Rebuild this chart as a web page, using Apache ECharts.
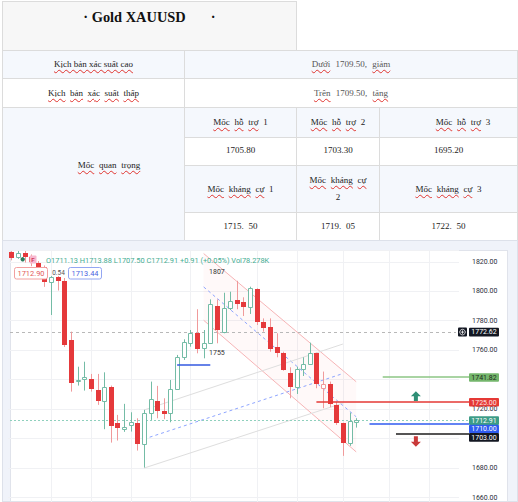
<!DOCTYPE html>
<html><head><meta charset="utf-8">
<script src="https://cdn.jsdelivr.net/npm/echarts@6/dist/echarts.min.js"></script>
<style>
html,body{margin:0;padding:0;background:#fff;width:518px;height:502px;overflow:hidden;position:relative;}
.c{position:absolute;box-sizing:border-box;border:1px solid #dcdcdc;display:flex;align-items:center;justify-content:center;text-align:center;font-family:"Liberation Serif","Times New Roman",serif;font-size:9px;color:#222;word-spacing:2.5px;line-height:12px;padding-bottom:1px;}
.b{background:#f5f8fd}
.w{background:#fff}
.s{text-decoration:underline wavy #e0342f;text-decoration-thickness:1px;text-underline-offset:1.5px;text-decoration-skip-ink:none}
#frame{position:absolute;left:2px;top:240px;width:516px;height:262px;box-sizing:border-box;background:#f0f3fa;border:1px solid #dde1ea;}
#pane{position:absolute;left:10px;top:250px;width:498px;height:252px;box-sizing:border-box;background:#fff;border:1px solid #e0e3eb;}
#chart{position:absolute;left:0;top:240px;width:518px;height:262px;}
</style></head><body>
<div class="c" style="left:2px;top:1px;width:295px;height:50px;background:#f7f7f7;align-items:flex-start;padding-top:7px;"><span style="font-weight:bold;font-size:14.4px;line-height:16px;white-space:pre;color:#111;word-spacing:0">· Gold XAUUSD       ·</span></div>
<div class="c b" style="left:2px;top:50px;width:183px;height:29px;word-spacing:0"><span class="s">Kịch bản xác suất cao</span></div>
<div class="c b" style="left:184px;top:50px;width:334px;height:29px;color:#555;word-spacing:3px"><span><span class="s">Dưới</span> 1709.50, <span class="s">giảm</span></span></div>
<div class="c w" style="left:2px;top:78px;width:183px;height:30px;word-spacing:2.2px"><span><span class="s">Kịch</span> <span class="s">bản</span> <span class="s">xác</span> <span class="s">suất</span> <span class="s">thấp</span></span></div>
<div class="c w" style="left:184px;top:78px;width:334px;height:30px;color:#555;word-spacing:3px"><span><span class="s">Trên</span> 1709.50, <span class="s">tăng</span></span></div>
<div class="c b" style="left:2px;top:107px;width:183px;height:134px;padding-left:31px;padding-bottom:18px;"><span><span class="s">Mốc</span> <span class="s">quan</span> <span class="s">trọng</span></span></div>
<div class="c b" style="left:184px;top:107px;width:113px;height:31px;"><span><span class="s">Mốc</span> <span class="s">hỗ</span> <span class="s">trợ</span> 1</span></div>
<div class="c b" style="left:296px;top:107px;width:84px;height:31px;"><span><span class="s">Mốc</span> <span class="s">hỗ</span> <span class="s">trợ</span> 2</span></div>
<div class="c b" style="left:379px;top:107px;width:139px;height:31px;padding-left:29px;"><span><span class="s">Mốc</span> <span class="s">hỗ</span> <span class="s">trợ</span> 3</span></div>
<div class="c w" style="left:184px;top:137px;width:113px;height:29px;padding-bottom:3px">1705.80</div>
<div class="c w" style="left:296px;top:137px;width:84px;height:29px;padding-bottom:3px">1703.30</div>
<div class="c w" style="left:379px;top:137px;width:139px;height:29px;padding-bottom:3px">1695.20</div>
<div class="c b" style="left:184px;top:165px;width:113px;height:48px;"><span><span class="s">Mốc</span> <span class="s">kháng</span> <span class="s">cự</span> 1</span></div>
<div class="c b" style="left:296px;top:165px;width:84px;height:48px;line-height:17px"><span><span class="s">Mốc</span> <span class="s">kháng</span> <span class="s">cự</span><br>2</span></div>
<div class="c b" style="left:379px;top:165px;width:139px;height:48px;"><span><span class="s">Mốc</span> <span class="s">kháng</span> <span class="s">cự</span> 3</span></div>
<div class="c w" style="left:184px;top:212px;width:113px;height:29px;">1715. 50</div>
<div class="c w" style="left:296px;top:212px;width:84px;height:29px;">1719. 05</div>
<div class="c w" style="left:379px;top:212px;width:139px;height:29px;">1722. 50</div>
<div id="frame"></div>
<div id="pane"></div>
<div id="chart"></div>
<script>
// ---------- data ----------
const categories = Array.from({length: 68}, (_, i) => String(i + 1));
const opens = [1826.5,1823,1826,1823.5,1819.5,1816.5,1806.5,1809.8,1806.9,1766.9,
1739.8,1740.3,1740.5,1733,1725.8,1735.3,1710.9,1706.4,1709.3,1710.9,
1696.2,1717.7,1725.6,1718.8,1717.2,1733.5,1755.6,1764.7,1771.5,1761.3,
1765.1,1790.2,1772.6,1788.4,1794.1,1792.5,1789.5,1801.5,1779.3,1775.6,
1762,1758.3,1744.8,1735.3,1747.1,1750.7,1757.9,1734.2,1737.1,1722.9,
1710.5,1696.9,1711.13];
const highs = [1827.3,1827.3,1827.3,1825,1820.5,1817.5,1810.3,1810.3,1809,1772.6,
1748.8,1752.2,1743.9,1743.9,1745,1736,1716.1,1723.6,1717.9,1713.8,
1719.5,1738.7,1735.8,1727.4,1739.8,1756.8,1767.4,1773.7,1787.8,1773.7,
1794.5,1794.5,1799,1799.7,1807.1,1795.9,1803.1,1802,1781.6,1781.6,
1771.5,1759,1748.4,1748.8,1755.2,1765.1,1758.3,1745.5,1738.7,1725.1,
1710.8,1717.7,1713.88];
const lows = [1821,1822,1819.5,1817,1815,1803,1783.9,1800.5,1762.2,1731.9,
1736,1732.6,1731.9,1722.9,1706.4,1697.3,1698.7,1704.6,1704.8,1691.9,
1680.4,1712.7,1713.8,1713.2,1711.1,1733,1753.4,1762.4,1757.9,1754.5,
1764.7,1764.7,1771.5,1787.3,1787.8,1783.2,1784.6,1777.1,1772.6,1759,
1755.2,1746.1,1727.4,1730.3,1742.5,1750,1734.2,1720.6,1721.3,1709.3,
1688.3,1695.1,1707.50];
const closes = [1822.5,1826.3,1823.5,1820,1816.5,1806,1809.8,1806.9,1763.6,1738,
1740,1741.7,1733.5,1725.8,1734.9,1708.8,1707.1,1708.2,1711.1,1696.2,
1717.7,1726.7,1719,1716.6,1733.5,1755.2,1765.8,1771.9,1760.6,1765.1,
1791.1,1773.7,1788.4,1793.6,1791.3,1789.1,1802,1779.3,1774.9,1760.8,
1757.9,1746.6,1735.3,1747.1,1750.7,1757.9,1737.1,1736.8,1723.6,1710.5,
1696.9,1712.0,1712.91];
const yMin = 1657, yMax = 1828;
const hiddenTickLabels = [1740, 1700];
const vGridIdx = [6,12,18,27,37,43,50,57,63];
const levelValues = [1741.82, 1725.00, 1710.00, 1703.00];
const levelStartIdx = [56, 46, 54, 58];
const refLineValue = 1772.62;
const currentPrice = 1712.91;
const blueMarkIdx = [25, 30];
const blueMarkValue = 1750;
const ascIdx = [20, 50];
const ascLow = [1680.0, 1724.1];
const ascHigh = [1719.4, 1764.2];
const descIdx = [29, 52];
const descHigh = [1825.6, 1738.6];
const descLow = [1780.3, 1691.0];
const peakLabels = ['1807', '1755'];
const peakIdx = [31, 31];
const peakValues = [1812.9, 1758.3];
const arrowIdx = 61;
const upArrow = [1732.2, 1725.6];
const downArrow = [1701.6, 1694.5];
const legendKeys = ['O','H','L','C'];
const legendVals = ['1711.13','1713.88','1707.50','1712.91'];
const legendChange = '+0.91 (+0.05%)';
const legendVol = '78.278K';
const bidAsk = ['1712.90','0.54','1713.44'];

// ---------- chart ----------
const GREEN = '#74bca6', RED = '#e5393b', RED_W = '#f09a9b';
const chart = echarts.init(document.getElementById('chart'), null, {renderer: 'svg'});
const candleData = opens.map((o, i) => [i, o, closes[i], lows[i], highs[i]]);

function renderCandle(params, api) {
  const i = api.value(0);
  const o = api.value(1), c = api.value(2), l = api.value(3), h = api.value(4);
  const prevC = i > 0 ? closes[i - 1] : o;
  const up = c >= prevC;
  const hollow = c > o;
  const p = api.coord([i, o]);
  const x = Math.round(p[0]);
  const yO = p[1], yC = api.coord([i, c])[1], yL = api.coord([i, l])[1], yH = api.coord([i, h])[1];
  const top = Math.min(yO, yC), bot = Math.max(yO, yC);
  const wick = up ? GREEN : RED_W;
  const ch = [{type: 'line', shape: {x1: x + 0.5, y1: yH, x2: x + 0.5, y2: yL}, style: {stroke: wick, lineWidth: 1}}];
  if (hollow) {
    const t = Math.round(top) + 0.5, b = Math.max(Math.round(bot) + 0.5, t + 1);
    ch.push({type: 'rect', shape: {x: x - 1.5, y: t, width: 4, height: b - t}, style: {fill: '#fff', stroke: up ? GREEN : RED_W, lineWidth: 1}});
  } else {
    const t = Math.round(top), b = Math.max(Math.round(bot), t + 1);
    ch.push({type: 'rect', shape: {x: x - 2, y: t, width: 5, height: b - t}, style: {fill: up ? GREEN : RED}});
  }
  return {type: 'group', children: ch};
}

chart.setOption({
  animation: false,
  textStyle: {fontFamily: 'Roboto'},
  grid: {left: 8, top: 10, width: 451, height: 252},
  xAxis: {type: 'category', data: categories, boundaryGap: true,
    axisLine: {show: false}, axisTick: {show: false}, axisLabel: {show: false}, splitLine: {show: false}},
  yAxis: {type: 'value', position: 'right', min: yMin, max: yMax, splitNumber: 8, scale: true,
    axisLine: {show: false}, axisTick: {show: false},
    axisLabel: {margin: 13, color: '#2a2e39', fontSize: 7, fontFamily: 'Roboto',
      formatter: v => (Math.abs(v % 20) < 1e-6 && hiddenTickLabels.indexOf(Math.round(v)) < 0 ? v.toFixed(2) : '')},
    splitLine: {lineStyle: {color: '#f0f1f4', width: 1}}},
  series: [
    {type: 'custom', silent: true, z: 1, data: vGridIdx.map(i => [i, 1700]), encode: {x: 0, y: 1},
      renderItem: (p, api) => {
        const x = Math.round(api.coord([api.value(0), api.value(1)])[0]) + 0.5;
        const cs = p.coordSys;
        return {type: 'line', shape: {x1: x, y1: cs.y, x2: x, y2: cs.y + cs.height}, style: {stroke: '#f0f1f4', lineWidth: 1}};
      }},
    {type: 'custom', name: 'XAUUSD', z: 5, data: candleData, encode: {x: 0, y: [1, 2, 3, 4]}, renderItem: renderCandle}
  ]
});

// ---------- drawings (positions from the chart's own scales) ----------
const P = (i, v) => chart.convertToPixel({gridIndex: 0}, [i, v]);
const Y = v => chart.convertToPixel({yAxisIndex: 0}, v);
const g = [];
const line = (a, b, stroke, lw, dash, z) => g.push({type: 'line', silent: true, z: z || 3,
  shape: {x1: a[0], y1: a[1], x2: b[0], y2: b[1]}, style: {stroke, lineWidth: lw, lineDash: dash || null}});
const txt = (x, y, text, fill, font, align, z) => g.push({type: 'text', silent: true, z: z || 60, x, y,
  style: {text, fill, font, textAlign: align || 'center', textVerticalAlign: 'middle', align: align || 'center', verticalAlign: 'middle'}});

// descending channel
const dH0 = P(descIdx[0], descHigh[0]), dH1 = P(descIdx[1], descHigh[1]);
const dL0 = P(descIdx[0], descLow[0]), dL1 = P(descIdx[1], descLow[1]);
g.push({type: 'polygon', silent: true, z: 1, shape: {points: [dH0, dH1, dL1, dL0]}, style: {fill: 'rgba(242,54,69,0.032)'}});
line(dH0, dH1, '#f6b4b6', 1);
line(dL0, dL1, '#f6b4b6', 1);
line(P(descIdx[0], (descHigh[0] + descLow[0]) / 2), P(descIdx[1], (descHigh[1] + descLow[1]) / 2), '#8ea5ff', 1, [3, 3]);
// ascending channel
line(P(ascIdx[0], ascLow[0]), P(ascIdx[1], ascLow[1]), '#dedede', 1);
line(P(ascIdx[0], ascHigh[0]), P(ascIdx[1], ascHigh[1]), '#dedede', 1);
line(P(ascIdx[0], (ascLow[0] + ascHigh[0]) / 2), P(ascIdx[1], (ascLow[1] + ascHigh[1]) / 2), '#8ea5ff', 1, [3, 3]);
// blue mark
{ const a = P(blueMarkIdx[0], blueMarkValue), b = P(blueMarkIdx[1], blueMarkValue);
  const y = Math.round(a[1]); line([a[0], y], [b[0], y], '#3358e0', 1.5, null, 20); }
// peak labels
peakLabels.forEach((t, k) => { const p = P(peakIdx[k], peakValues[k]); txt(p[0], p[1], t, '#333', '7px Roboto'); });

// reference dashed lines
{ const y = Math.round(Y(refLineValue)) + 0.5; line([10, y], [456, y], '#b8b8b8', 1, [3, 3], 4); }
{ const y = Math.round(Y(currentPrice)) + 0.5; line([10, y], [469, y], '#8fd0bd', 1, [2, 2], 4); }
// level lines
const levelColors = ['#8cc684', '#e53935', '#2f5bf0', '#555'];
const levelWidths = [1.5, 1.5, 1.5, 2];
levelValues.forEach((v, k) => { const a = P(levelStartIdx[k], v); const y = Math.round(a[1]); line([a[0], y], [469, y], levelColors[k], levelWidths[k], null, 30); });

// arrows
function arrow(vals, upDir, color) {
  const x = P(arrowIdx, vals[0])[0];
  const y0 = Y(vals[0]), y1 = Y(vals[1]);
  let pts;
  if (upDir) { const t = y0, b = y1; pts = [[x, t], [x + 5, t + 5], [x + 2, t + 5], [x + 2, b], [x - 2, b], [x - 2, t + 5], [x - 5, t + 5]]; }
  else { const t = y0, b = y1; pts = [[x, b], [x + 5, b - 5], [x + 2, b - 5], [x + 2, t], [x - 2, t], [x - 2, b - 5], [x - 5, b - 5]]; }
  g.push({type: 'polygon', silent: true, z: 30, shape: {points: pts}, style: {fill: color}});
}
arrow(upArrow, true, '#2f8f76');
arrow(downArrow, false, '#c93a3a');

// price tags
function tag(yc, text, bg, fg) {
  g.push({type: 'rect', silent: true, z: 100, shape: {x: 469, y: yc - 4.3, width: 30, height: 8.6, r: 1}, style: {fill: bg}});
  txt(484, yc + 0.3, text, fg, '7px Roboto', 'center', 101);
}
tag(Y(refLineValue) + 0.5, refLineValue.toFixed(2), '#131722', '#fff');
g.push({type: 'rect', silent: true, z: 100, shape: {x: 458, y: Y(refLineValue) - 4, width: 9, height: 9, r: 1}, style: {fill: '#131722'}});
g.push({type: 'circle', silent: true, z: 101, shape: {cx: 462.5, cy: Y(refLineValue) + 0.5, r: 2.8}, style: {fill: 'none', stroke: '#fff', lineWidth: 0.8}});
line([460.8, Y(refLineValue) + 0.5], [464.2, Y(refLineValue) + 0.5], '#fff', 0.8, null, 102);
line([462.5, Y(refLineValue) - 1.2], [462.5, Y(refLineValue) + 2.2], '#fff', 0.8, null, 102);
tag(Y(levelValues[0]) + 0.5, levelValues[0].toFixed(2), '#74b66c', '#1e2a1c');
tag(Y(levelValues[1]) + 0.5, levelValues[1].toFixed(2), '#e53935', '#fde7e7');
{ // stacked tags on the lower group
  const h = 8.4;
  let c1 = Y(currentPrice) + 1;
  let c2 = Math.max(Y(levelValues[2]), c1 + h);
  let c3 = Math.max(Y(levelValues[3]), c2 + h);
  tag(c1, currentPrice.toFixed(2), '#3d9c87', '#fff');
  tag(c2, levelValues[2].toFixed(2), '#2f5bf0', '#fff');
  tag(c3, levelValues[3].toFixed(2), '#131722', '#fff');
}

// legend (top-left)
{
  let s = legendKeys.map((k, i) => k + legendVals[i]).join(' ') + ' ' + legendChange + ' Vol' + legendVol;
  g.push({type: 'text', silent: true, z: 60, x: 46, y: 20, style: {text: s, fill: '#45ad92', font: '7.4px Roboto', textAlign: 'left', textVerticalAlign: 'middle', align: 'left', verticalAlign: 'middle'}});
  g.push({type: 'circle', silent: true, z: 60, shape: {cx: 22.7, cy: 19.3, r: 2.2}, style: {fill: '#2b7d5e'}});
  g.push({type: 'rect', silent: true, z: 60, shape: {x: 29.5, y: 15.5, width: 7, height: 8, r: 1}, style: {fill: '#f7b8cf'}});
  txt(33, 19.6, 'F', '#d23b5a', 'bold 6px Roboto', 'center', 61);
  g.push({type: 'rect', silent: true, z: 60, shape: {x: 14.5, y: 27.5, width: 33, height: 11.5, r: 2}, style: {fill: '#fff', stroke: '#f2a0a0', lineWidth: 1}});
  txt(31, 33.4, bidAsk[0], '#e25a5a', '7.4px Roboto', 'center', 61);
  txt(58.5, 33.4, bidAsk[1], '#555', '6.5px Roboto', 'center', 61);
  g.push({type: 'rect', silent: true, z: 60, shape: {x: 68.5, y: 27.5, width: 33, height: 11.5, r: 2}, style: {fill: '#fff', stroke: '#93a6f2', lineWidth: 1}});
  txt(85, 33.4, bidAsk[2], '#4a63e0', '7.4px Roboto', 'center', 61);
}

chart.setOption({graphic: {elements: g}});
</script>
</body></html>
